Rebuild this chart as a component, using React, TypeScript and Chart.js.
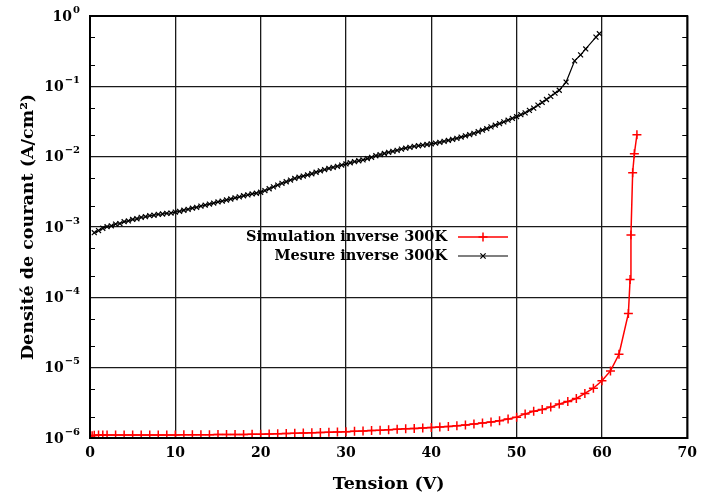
import React, { useEffect, useRef } from "react";
import { Chart, registerables } from "chart.js";
Chart.register(...registerables);

// ---- data ----
const simVoltage = [
  0, 0.25, 0.5, 1, 1.5, 2, 3, 4, 5, 6, 7, 8, 9, 10, 11, 12, 13, 14, 15, 16, 17, 18, 19, 20,
  21, 22, 23, 24, 25, 26, 27, 28, 29, 30, 31, 32, 33, 34, 35, 36, 37, 38, 39, 40,
  41, 42, 43, 44, 45, 46, 47, 48, 49, 50, 51, 52, 53, 54, 55, 56, 57, 58, 59, 60,
  61, 62, 63.1, 63.3, 63.4, 63.6, 63.8, 64.1,
];
const simDensity = [
  1.08e-6, 1.08e-6, 1.09e-6, 1.1e-6, 1.1e-6, 1.1e-6, 1.1e-6, 1.1e-6, 1.1e-6, 1.1e-6, 1.1e-6, 1.1e-6, 1.1e-6, 1.1e-6,
  1.11e-6, 1.11e-6, 1.11e-6, 1.11e-6, 1.12e-6, 1.12e-6, 1.12e-6, 1.12e-6, 1.13e-6, 1.13e-6,
  1.14e-6, 1.15e-6, 1.16e-6, 1.17e-6, 1.18e-6, 1.19e-6, 1.2e-6, 1.21e-6, 1.22e-6, 1.23e-6,
  1.25e-6, 1.26e-6, 1.28e-6, 1.29e-6, 1.31e-6, 1.33e-6, 1.35e-6, 1.37e-6, 1.39e-6, 1.41e-6,
  1.43e-6, 1.46e-6, 1.49e-6, 1.53e-6, 1.58e-6, 1.63e-6, 1.69e-6, 1.76e-6, 1.86e-6, 1.98e-6,
  2.2e-6, 2.4e-6, 2.55e-6, 2.75e-6, 3.05e-6, 3.3e-6, 3.65e-6, 4.3e-6, 5.1e-6, 6.5e-6,
  9.0e-6, 1.55e-5, 5.9e-5, 1.8e-4, 7.7e-4, 5.9e-3, 1.1e-2, 2.05e-2,
];

const mesVoltage = [
  0.5, 1, 1.5, 2, 2.5, 3, 3.5, 4, 4.5, 5, 5.5, 6, 6.5, 7, 7.5, 8, 8.5, 9, 9.5, 10,
  10.5, 11, 11.5, 12, 12.5, 13, 13.5, 14, 14.5, 15, 15.5, 16, 16.5, 17, 17.5, 18, 18.5, 19, 19.5, 20,
  20.5, 21, 21.5, 22, 22.5, 23, 23.5, 24, 24.5, 25, 25.5, 26, 26.5, 27, 27.5, 28, 28.5, 29, 29.5, 30,
  30.5, 31, 31.5, 32, 32.5, 33, 33.5, 34, 34.5, 35, 35.5, 36, 36.5, 37, 37.5, 38, 38.5, 39, 39.5, 40,
  40.5, 41, 41.5, 42, 42.5, 43, 43.5, 44, 44.5, 45, 45.5, 46, 46.5, 47, 47.5, 48, 48.5, 49, 49.5, 50,
  50.5, 51, 51.5, 52, 52.5, 53, 53.5, 54, 54.5, 55, 55.8, 56.8, 57.5, 58.1, 59.3, 59.7,
];
const mesDensity = [
  8.3e-4, 8.9e-4, 9.6e-4, 1.01e-3, 1.04e-3, 1.1e-3, 1.12e-3, 1.19e-3, 1.22e-3, 1.28e-3,
  1.31e-3, 1.37e-3, 1.4e-3, 1.45e-3, 1.47e-3, 1.51e-3, 1.53e-3, 1.56e-3, 1.58e-3, 1.63e-3,
  1.67e-3, 1.73e-3, 1.78e-3, 1.85e-3, 1.9e-3, 1.98e-3, 2.04e-3, 2.12e-3, 2.19e-3, 2.27e-3,
  2.33e-3, 2.42e-3, 2.5e-3, 2.6e-3, 2.68e-3, 2.78e-3, 2.86e-3, 2.95e-3, 3.02e-3, 3.12e-3,
  3.3e-3, 3.5e-3, 3.72e-3, 3.95e-3, 4.18e-3, 4.4e-3, 4.65e-3, 4.9e-3, 5.1e-3, 5.3e-3,
  5.5e-3, 5.72e-3, 6.0e-3, 6.3e-3, 6.55e-3, 6.8e-3, 7.05e-3, 7.3e-3, 7.6e-3, 7.9e-3,
  8.2e-3, 8.5e-3, 8.75e-3, 9.0e-3, 9.4e-3, 9.8e-3, 1.03e-2, 1.07e-2, 1.11e-2, 1.15e-2,
  1.19e-2, 1.23e-2, 1.28e-2, 1.32e-2, 1.36e-2, 1.4e-2, 1.43e-2, 1.46e-2, 1.49e-2, 1.52e-2,
  1.56e-2, 1.6e-2, 1.65e-2, 1.7e-2, 1.76e-2, 1.82e-2, 1.9e-2, 1.98e-2, 2.06e-2, 2.15e-2,
  2.26e-2, 2.38e-2, 2.5e-2, 2.65e-2, 2.8e-2, 2.95e-2, 3.12e-2, 3.3e-2, 3.5e-2, 3.7e-2,
  3.95e-2, 4.2e-2, 4.55e-2, 4.9e-2, 5.4e-2, 5.9e-2, 6.5e-2, 7.2e-2, 8.0e-2, 8.8e-2,
  0.115, 0.23, 0.28, 0.34, 0.5, 0.56,
];

const xTicks = [0, 10, 20, 30, 40, 50, 60, 70];
const yTicks = [1e-6, 1e-5, 1e-4, 1e-3, 1e-2, 1e-1, 1];
const yTickBase = "10";
const yTickExponents = ["−6", "−5", "−4", "−3", "−2", "−1", "0"];
const yMinorMantissas = [2, 5];
const seriesNames = ["Simulation inverse 300K", "Mesure inverse 300K"];
const xTitle = "Tension (V)";
const yTitle = "Densité de courant (A/cm²)";

const FONT = "'DejaVu Serif', serif";

const framePlugin = {
  id: "frame",
  afterDraw(chart: any) {
    const { ctx, chartArea } = chart;
    const { left, right, top, bottom } = chartArea;
    const y = chart.scales.y;
    ctx.save();
    ctx.strokeStyle = "#000";
    ctx.lineWidth = 2;
    ctx.strokeRect(left, top, right - left, bottom - top);
    // minor ticks
    ctx.lineWidth = 1.2;
    for (let i = 0; i < yTicks.length - 1; i++) {
      for (const m of yMinorMantissas) {
        const py = Math.round(y.getPixelForValue(yTicks[i] * m)) + 0.5;
        ctx.beginPath();
        ctx.moveTo(left, py);
        ctx.lineTo(left + 5, py);
        ctx.moveTo(right - 5, py);
        ctx.lineTo(right, py);
        ctx.stroke();
      }
    }
    // y tick labels with superscript exponents
    ctx.fillStyle = "#000";
    ctx.textAlign = "left";
    ctx.textBaseline = "middle";
    const labelRight = left - 10;
    yTicks.forEach((v, i) => {
      const py = y.getPixelForValue(v);
      const exp = yTickExponents[i];
      ctx.font = `bold 10px ${FONT}`;
      const ew = ctx.measureText(exp).width;
      ctx.font = `bold 14px ${FONT}`;
      const bw = ctx.measureText(yTickBase).width;
      const x0 = labelRight - ew - bw - 1;
      ctx.fillText(yTickBase, x0, py + 1);
      ctx.font = `bold 10px ${FONT}`;
      ctx.fillText(exp, x0 + bw + 1, py - 6);
    });
    // legend
    const rows = [237, 256];
    const textRight = 447;
    const lineStart = 458;
    const lineEnd = 508;
    ctx.font = `bold 14.5px ${FONT}`;
    ctx.textAlign = "right";
    ctx.textBaseline = "middle";
    chart.data.datasets.forEach((ds: any, i: number) => {
      const ry = rows[i];
      ctx.fillStyle = "#000";
      ctx.fillText(ds.label, textRight, ry);
      ctx.strokeStyle = ds.borderColor;
      ctx.lineWidth = ds.borderWidth;
      ctx.beginPath();
      ctx.moveTo(lineStart, ry);
      ctx.lineTo(lineEnd, ry);
      ctx.stroke();
      const cx = (lineStart + lineEnd) / 2;
      const r = ds.pointRadius;
      ctx.lineWidth = ds.pointBorderWidth;
      ctx.beginPath();
      if (ds.pointStyle === "cross") {
        ctx.moveTo(cx - r, ry);
        ctx.lineTo(cx + r, ry);
        ctx.moveTo(cx, ry - r);
        ctx.lineTo(cx, ry + r);
      } else {
        const d = r * 0.75;
        ctx.moveTo(cx - d, ry - d);
        ctx.lineTo(cx + d, ry + d);
        ctx.moveTo(cx - d, ry + d);
        ctx.lineTo(cx + d, ry - d);
      }
      ctx.stroke();
    });
    ctx.restore();
  },
};

export default function App() {
  const canvasRef = useRef<HTMLCanvasElement | null>(null);

  useEffect(() => {
    const canvas = canvasRef.current;
    if (!canvas) return;
    const tickFont = { family: FONT, size: 14, weight: "bold" as const };
    const titleFont = { family: FONT, size: 17.5, weight: "bold" as const };
    const chart = new Chart(canvas, {
      type: "line",
      data: {
        datasets: [
          {
            label: seriesNames[0],
            data: simVoltage.map((v, i) => ({ x: v, y: simDensity[i] })),
            borderColor: "#ff0000",
            backgroundColor: "#ff0000",
            borderWidth: 1.5,
            pointStyle: "cross",
            pointRadius: 4.5,
            pointBorderWidth: 1.5,
            pointBorderColor: "#ff0000",
            pointHoverRadius: 4.5,
            fill: false,
            tension: 0,
          },
          {
            label: seriesNames[1],
            data: mesVoltage.map((v, i) => ({ x: v, y: mesDensity[i] })),
            borderColor: "#000000",
            backgroundColor: "#000000",
            borderWidth: 1.2,
            pointStyle: "crossRot",
            pointRadius: 3.5,
            pointBorderWidth: 1.2,
            pointBorderColor: "#000000",
            pointHoverRadius: 3.5,
            fill: false,
            tension: 0,
          },
        ],
      },
      options: {
        responsive: false,
        animation: false,
        events: [],
        layout: { padding: { left: 0, right: 13, top: 16, bottom: 0 } },
        plugins: {
          legend: { display: false },
          tooltip: { enabled: false },
          title: { display: false },
        },
        scales: {
          x: {
            type: "linear",
            min: 0,
            max: 70,
            afterBuildTicks: (s: any) => {
              s.ticks = xTicks.map((v) => ({ value: v }));
            },
            afterFit: (s: any) => {
              s.height = 57;
            },
            ticks: {
              font: tickFont,
              color: "#000",
              padding: 7,
              maxRotation: 0,
              autoSkip: false,
              callback: (v: any) => String(v),
            },
            grid: { color: "#1a1a1a", lineWidth: 1.3, drawTicks: false },
            border: { color: "#000", width: 2 },
            title: {
              display: true,
              text: xTitle,
              font: titleFont,
              color: "#000",
              padding: { top: 0, bottom: 0 },
            },
          },
          y: {
            type: "logarithmic",
            min: 1e-6,
            max: 1,
            afterBuildTicks: (s: any) => {
              s.ticks = yTicks.map((v) => ({ value: v }));
            },
            afterFit: (s: any) => {
              s.width = 90;
            },
            ticks: {
              display: false,
            },
            grid: { color: "#1a1a1a", lineWidth: 1.3, drawTicks: false },
            border: { color: "#000", width: 2 },
            title: {
              display: true,
              text: yTitle,
              font: titleFont,
              color: "#000",
              padding: { top: 17.5, bottom: 0 },
            },
          },
        },
      } as any,
      plugins: [framePlugin],
    });
    return () => chart.destroy();
  }, []);

  return (
    <div style={{ position: "absolute", left: 0, top: 0, width: 704, height: 495, background: "#fff" }}>
      <canvas ref={canvasRef} width={704} height={495} style={{ width: 704, height: 495, display: "block" }} />
    </div>
  );
}
